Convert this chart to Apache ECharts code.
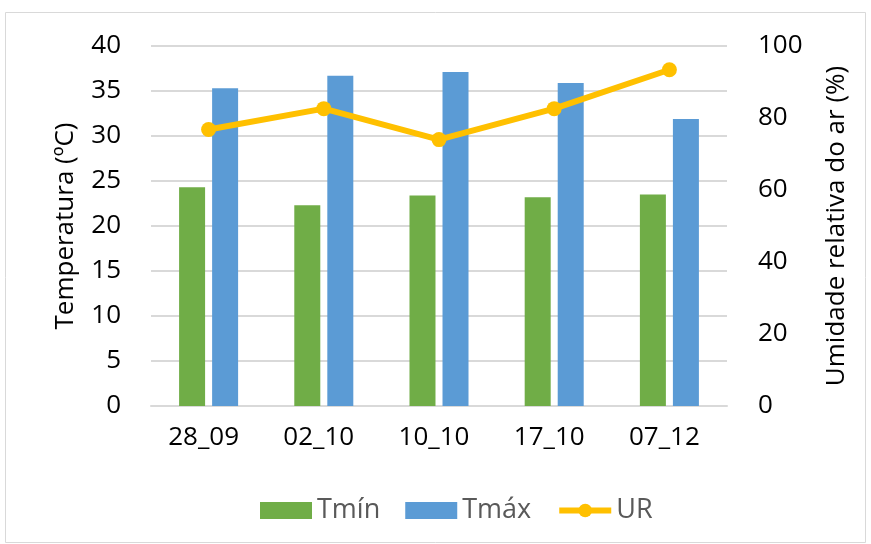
<!DOCTYPE html>
<html>
<head>
<meta charset="utf-8">
<script src="https://cdn.jsdelivr.net/npm/echarts@6/dist/echarts.min.js"></script>
<style>
  html, body { margin: 0; padding: 0; background: #fff; }
  #chart { width: 871px; height: 544px; }
</style>
</head>
<body>
<div id="chart"></div>
<script>
// Sampling dates
const categories = ['28_09', '02_10', '10_10', '17_10', '07_12'];
// Minimum and maximum temperature (ºC)
const tMin = [24.3, 22.3, 23.4, 23.2, 23.5];
const tMax = [35.3, 36.7, 37.1, 35.9, 31.9];
// Relative air humidity (%)
const ur = [76.8, 82.6, 74.0, 82.6, 93.4];

const font = '"Open Sans", Lato, sans-serif';
const chart = echarts.init(document.getElementById('chart'));

chart.setOption({
  animation: false,
  backgroundColor: '#fff',
  graphic: [{
    type: 'rect',
    shape: { x: 5.5, y: 12.5, width: 860, height: 530 },
    style: { fill: 'none', stroke: '#d9d9d9', lineWidth: 1 },
    silent: true
  }],
  grid: { left: 151, right: 144, top: 46, bottom: 138 },
  legend: {
    top: 492,
    left: 255,
    itemWidth: 52,
    itemHeight: 17,
    itemGap: 25,
    lineStyle: { width: 6 },
    textStyle: { fontFamily: font, fontSize: 27, color: '#595959' },
    data: [
      { name: 'Tmín', icon: 'rect' },
      { name: 'Tmáx', icon: 'rect' },
      { name: 'UR' }
    ]
  },
  xAxis: {
    type: 'category',
    data: categories,
    axisLine: { lineStyle: { color: '#d9d9d9', width: 2 } },
    axisTick: { show: false },
    axisLabel: { fontFamily: font, fontSize: 26, color: '#000', margin: 19, padding: [0, 10, 0, 0] }
  },
  yAxis: [{
    type: 'value',
    min: 0, max: 40, interval: 5,
    name: 'Temperatura (ºC)',
    nameLocation: 'middle',
    nameRotate: 90,
    nameGap: 72,
    nameTextStyle: { fontFamily: font, fontSize: 26, color: '#000' },
    axisLine: { show: false },
    axisTick: { show: false },
    axisLabel: { fontFamily: font, fontSize: 26, color: '#000', margin: 30 },
    splitLine: { lineStyle: { color: '#d9d9d9', width: 2 } }
  }, {
    type: 'value',
    min: 0, max: 100, interval: 20,
    name: 'Umidade relativa do ar (%)',
    nameLocation: 'middle',
    nameRotate: 90,
    nameGap: 97,
    nameTextStyle: { fontFamily: font, fontSize: 26, color: '#000' },
    axisLine: { show: false },
    axisTick: { show: false },
    axisLabel: { fontFamily: font, fontSize: 26, color: '#000', margin: 31 },
    splitLine: { show: false }
  }],
  series: [{
    name: 'Tmín',
    type: 'bar',
    data: tMin,
    barWidth: 26,
    barGap: '27%',
    itemStyle: { color: '#70AD47' }
  }, {
    name: 'Tmáx',
    type: 'bar',
    data: tMax,
    barWidth: 26,
    itemStyle: { color: '#5B9BD5' }
  }, {
    name: 'UR',
    type: 'line',
    yAxisIndex: 1,
    data: ur,
    symbol: 'circle',
    symbolSize: 15,
    lineStyle: { color: '#FFC000', width: 6 },
    itemStyle: { color: '#FFC000' }
  }]
});
</script>
</body>
</html>
